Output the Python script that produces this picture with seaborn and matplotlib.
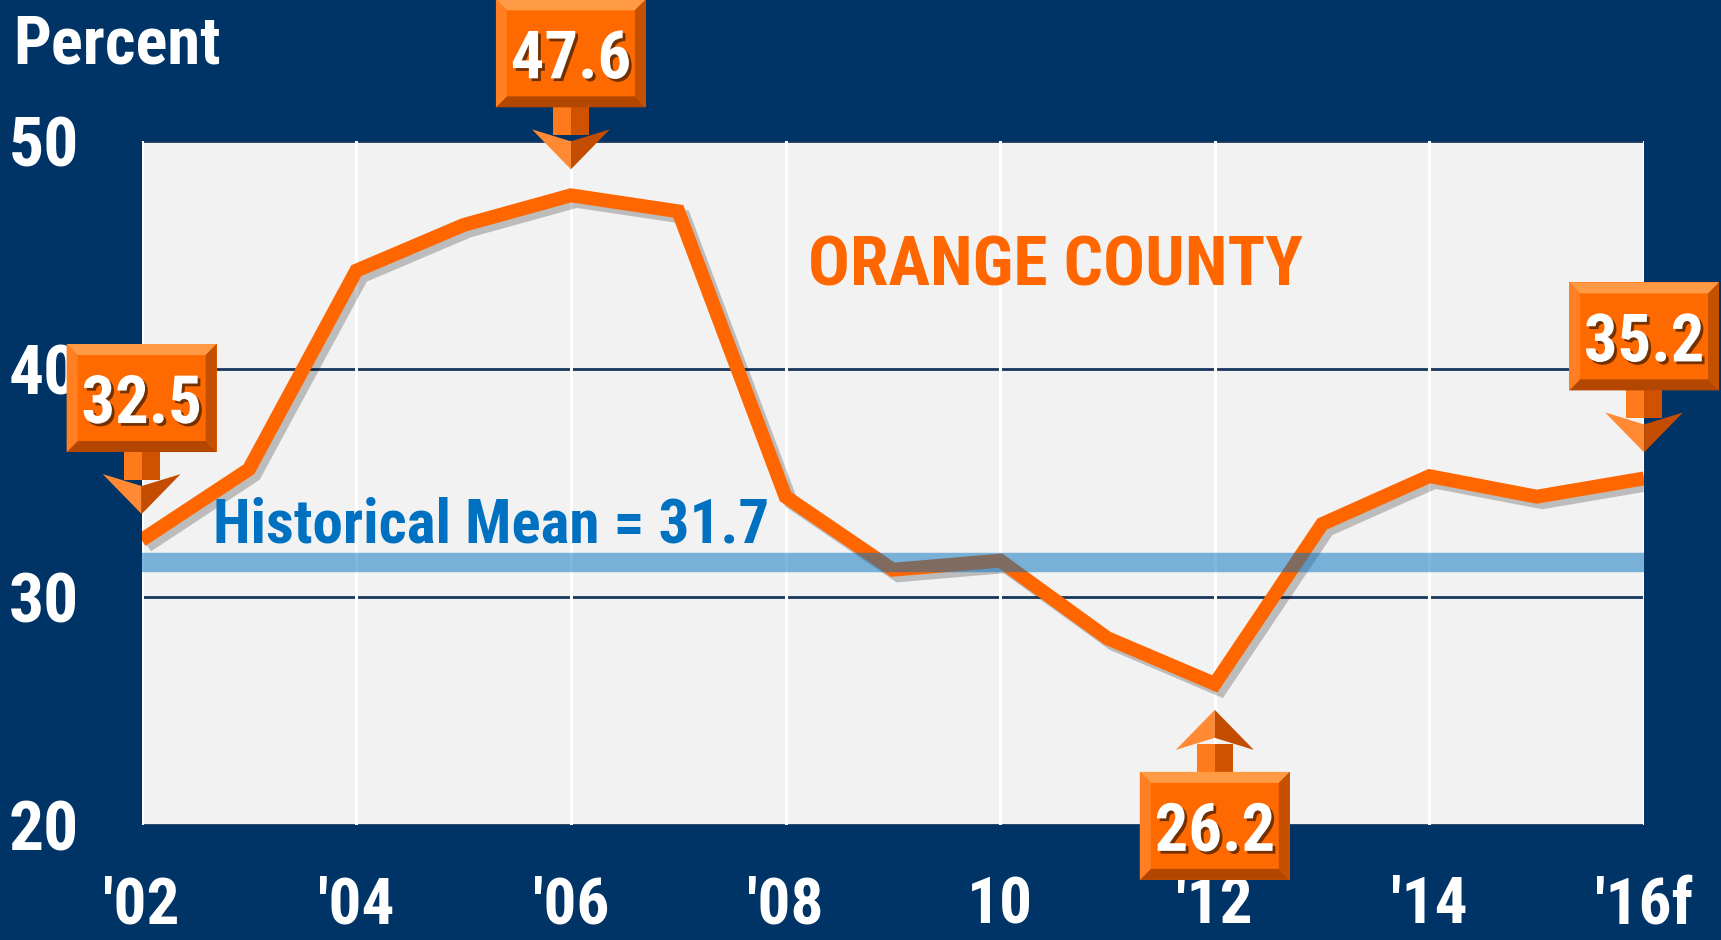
import numpy as np
import pandas as pd
import matplotlib
matplotlib.use("Agg")
import matplotlib.pyplot as plt
import matplotlib.patheffects as pe
from matplotlib.patches import Polygon
from matplotlib.transforms import Affine2D, ScaledTranslation
from matplotlib import font_manager
import seaborn as sns

# ---- data ----
years = [2002, 2003, 2004, 2005, 2006, 2007, 2008, 2009, 2010, 2011, 2012, 2013, 2014, 2015, 2016]
pct = [32.5, 35.6, 44.3, 46.3, 47.6, 46.9, 34.4, 31.2, 31.6, 28.2, 26.2, 33.2, 35.3, 34.4, 35.2]
tick_years = [2002, 2004, 2006, 2008, 2010, 2012, 2014, 2016]
tick_labels = ["'02", "'04", "'06", "'08", "10", "'12", "'14", "'16f"]
y_ticks = [20, 30, 40, 50]
mean_value = 31.7
mean_band_center = 31.55
callout_years = [2002, 2006, 2012, 2016]
callout_values = [32.5, 47.6, 26.2, 35.2]
callout_labels = ["32.5", "47.6", "26.2", "35.2"]
callout_dir = [1, 1, -1, 1]   # 1: box above point, -1: box below point

NAVY = "#003366"
PLOT_BG = "#F2F2F2"
ORANGE = "#FF6600"
BLUE = "#0070C0"

sns.set_theme(style="white")


def bold_family(cands):
    for name in cands:
        for f in font_manager.fontManager.ttflist:
            w = f.weight if isinstance(f.weight, int) else 400
            if f.name == name and w >= 700 and f.style == "normal":
                return name
    return None


narrow = bold_family(["Liberation Sans Narrow", "Arial Narrow", "Roboto Condensed",
                      "PT Sans Narrow", "Open Sans Condensed", "Barlow Semi Condensed",
                      "Asap Condensed"])
fam = [f for f in [narrow, "Liberation Sans", "DejaVu Sans"] if f]
plt.rcParams["font.family"] = fam
plt.rcParams["font.weight"] = "bold"

fig = plt.figure(figsize=(17.21, 9.40), dpi=100, facecolor=NAVY)
ax = fig.add_axes([0.0823, 0.1219, 0.873, 0.7286])
ax.set_facecolor(PLOT_BG)

df = pd.DataFrame({"year": years, "pct": pct})
sns.lineplot(data=df, x="year", y="pct", ax=ax, color=ORANGE, linewidth=10, zorder=3)
line = ax.lines[0]
line.set_solid_joinstyle("miter")
line.set_solid_capstyle("butt")
line.set_path_effects([pe.SimpleLineShadow(offset=(4, -4), shadow_color="black", alpha=0.22),
                       pe.Normal()])

# mean band (semi-transparent, above the line)
ax.axhline(mean_band_center, color=BLUE, alpha=0.5, linewidth=14, zorder=4)
ax.text(0.0475, 0.4138, f"Historical Mean = {mean_value}", transform=ax.transAxes,
        color=BLUE, fontsize=44, fontweight="bold", ha="left", va="baseline", zorder=5)
ax.text(0.4436, 0.7876, "ORANGE COUNTY", transform=ax.transAxes,
        color=ORANGE, fontsize=50, fontweight="bold", ha="left", va="baseline", zorder=5)

ax.set_xlim(years[0], years[-1])
ax.set_ylim(y_ticks[0], y_ticks[-1])
ax.set_xticks(tick_years)
ax.set_xticklabels(tick_labels)
ax.set_yticks(y_ticks)
ax.set_xlabel("")
ax.set_ylabel("")
for s in ax.spines.values():
    s.set_visible(False)
ax.tick_params(axis="both", length=0, colors="white")
ax.tick_params(axis="y", pad=45, labelsize=50)
ax.tick_params(axis="x", pad=36, labelsize=47)
for lab in ax.get_xticklabels() + ax.get_yticklabels():
    lab.set_fontweight("bold")
ax.grid(axis="x", color="white", linewidth=2.2)
ax.grid(axis="y", color="#17375E", linewidth=2.0)
ax.yaxis.set_zorder(0.4)
ax.xaxis.set_zorder(0.5)

fig.text(13 / 1721, 1 - 64 / 940, "Percent", color="white", fontsize=48,
         fontweight="bold", ha="left", va="baseline")

# ---- callouts ----
W, H, GAP, BASEGAP, HEAD_H, HEAD_W, SHAFT_W, BEV = 150, 108, 26, 88, 40, 78, 36, 11


def add_poly(pts, color, T, z):
    ax.add_patch(Polygon(pts, closed=True, facecolor=color, edgecolor="none",
                         transform=T, clip_on=False, zorder=z))


for cx, cy, lab, s in zip(callout_years, callout_values, callout_labels, callout_dir):
    T = Affine2D() + ScaledTranslation(cx, cy, ax.transData)
    # arrow
    hb = s * (GAP + HEAD_H)
    sh_end = s * (BASEGAP + 20)
    add_poly([(-SHAFT_W / 2, hb - s * 6), (0, hb - s * 6), (0, sh_end), (-SHAFT_W / 2, sh_end)], "#FF7A1A", T, 6)
    add_poly([(0, hb - s * 6), (SHAFT_W / 2, hb - s * 6), (SHAFT_W / 2, sh_end), (0, sh_end)], "#D05200", T, 6)
    notch = s * (GAP + HEAD_H - 12)
    add_poly([(-HEAD_W / 2, hb), (0, notch), (0, s * GAP)], "#FF8A33", T, 6.1)
    add_poly([(HEAD_W / 2, hb), (0, notch), (0, s * GAP)], "#C24C00", T, 6.1)
    # box
    if s > 0:
        lo, hi = BASEGAP, BASEGAP + H
    else:
        lo, hi = -BASEGAP - H, -BASEGAP
    L, R = -W / 2, W / 2
    add_poly([(L, lo), (R, lo), (R, hi), (L, hi)], "#FF6A00", T, 7)
    add_poly([(L, hi), (R, hi), (R - BEV, hi - BEV), (L + BEV, hi - BEV)], "#FF9A45", T, 7.1)
    add_poly([(L, lo), (R, lo), (R - BEV, lo + BEV), (L + BEV, lo + BEV)], "#B34700", T, 7.1)
    add_poly([(L, lo), (L, hi), (L + BEV, hi - BEV), (L + BEV, lo + BEV)], "#FF7F22", T, 7.1)
    add_poly([(R, lo), (R, hi), (R - BEV, hi - BEV), (R - BEV, lo + BEV)], "#C45000", T, 7.1)
    ax.text(0, (lo + hi) / 2, lab, transform=T, color="white", fontsize=48,
            fontweight="bold", ha="center", va="center_baseline", zorder=8, clip_on=False,
            path_effects=[pe.SimplePatchShadow(offset=(2, -2), shadow_rgbFace="#5A2600", alpha=0.85),
                          pe.Normal()])

fig.savefig("out.png", dpi=100, facecolor=NAVY)
